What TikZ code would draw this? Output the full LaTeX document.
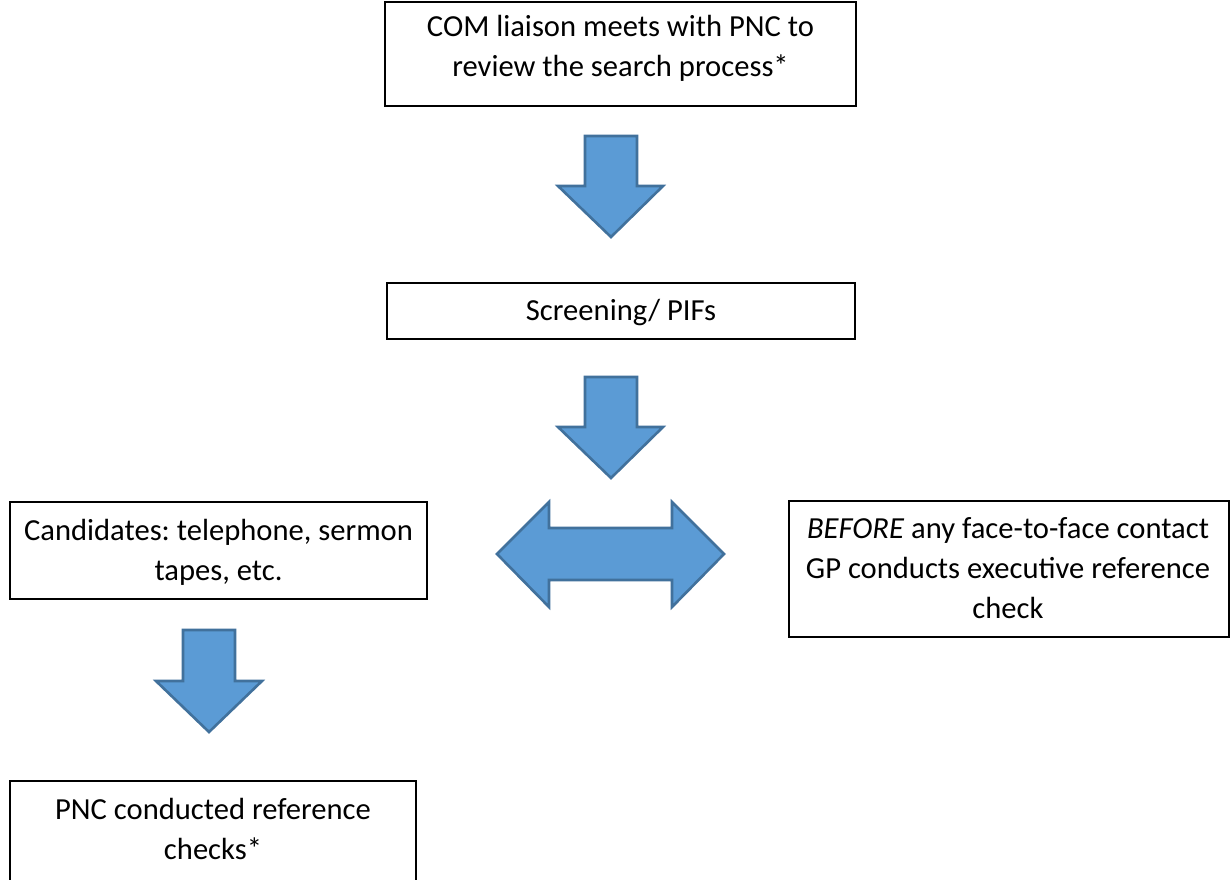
\documentclass[tikz,border=0pt]{standalone}
\usepackage{fontspec}
\setmainfont{Carlito}
\frenchspacing
\definecolor{arrowfill}{HTML}{5B9BD5}
\definecolor{arrowline}{HTML}{41719C}
\begin{document}
\begin{tikzpicture}[x=1pt,y=-1pt,
  box/.style={draw=black,line width=1.6pt,rectangle,inner sep=0pt},
  txt/.style={anchor=north,inner sep=0pt,align=center,
    font=\fontsize{30.6}{40.3}\selectfont},
  blockarrow/.style={fill=arrowfill,draw=arrowline,line width=2.6pt,line join=miter}]
\useasboundingbox (0,0) rectangle (1230,879);
\fill[white] (0,0) rectangle (1230,879);
% boxes
\node[box,minimum width=471pt,minimum height=104pt] (b1) at (620.5,54) {};
\node[box,minimum width=468pt,minimum height=56pt] (b2) at (621,311) {};
\node[box,minimum width=417pt,minimum height=97pt] (b3) at (218.5,550.5) {};
\node[box,minimum width=440pt,minimum height=136pt] (b4) at (1009,569) {};
\node[box,minimum width=406pt,minimum height=104pt] (b5) at (213,833) {};
% texts
\node[txt] (t1) at (620.5,11) {\rule{0pt}{25pt}COM liaison meets with PNC to\\review the search process*};
\node[txt] (t2) at (621,295) {\rule{0pt}{25pt}Screening/ PIFs};
\node[txt] (t3) at (218.5,515) {\rule{0pt}{25pt}Candidates: telephone, sermon\\tapes, etc.};
\node[txt] (t4) at (1008,513) {\rule{0pt}{25pt}\textit{BEFORE} any face-to-face contact\\GP conducts executive reference\\check};
\node[txt] (t5) at (213,794) {\rule{0pt}{25pt}PNC conducted reference\\checks*};
% block arrows
\draw[blockarrow] (585,136) -- (637,136) -- (637,186) -- (663,186) -- (611,237) -- (558,186) -- (585,186) -- cycle;
\draw[blockarrow] (585,377) -- (637,377) -- (637,427) -- (663,427) -- (611,478) -- (558,427) -- (585,427) -- cycle;
\draw[blockarrow] (183,630) -- (235,630) -- (235,681) -- (262,681) -- (209,732) -- (156,681) -- (183,681) -- cycle;
\draw[blockarrow] (497,554) -- (549,502) -- (549,528) -- (672,528) -- (672,502) -- (724,554) -- (672,607) -- (672,580) -- (549,580) -- (549,607) -- cycle;
\end{tikzpicture}
\end{document}
